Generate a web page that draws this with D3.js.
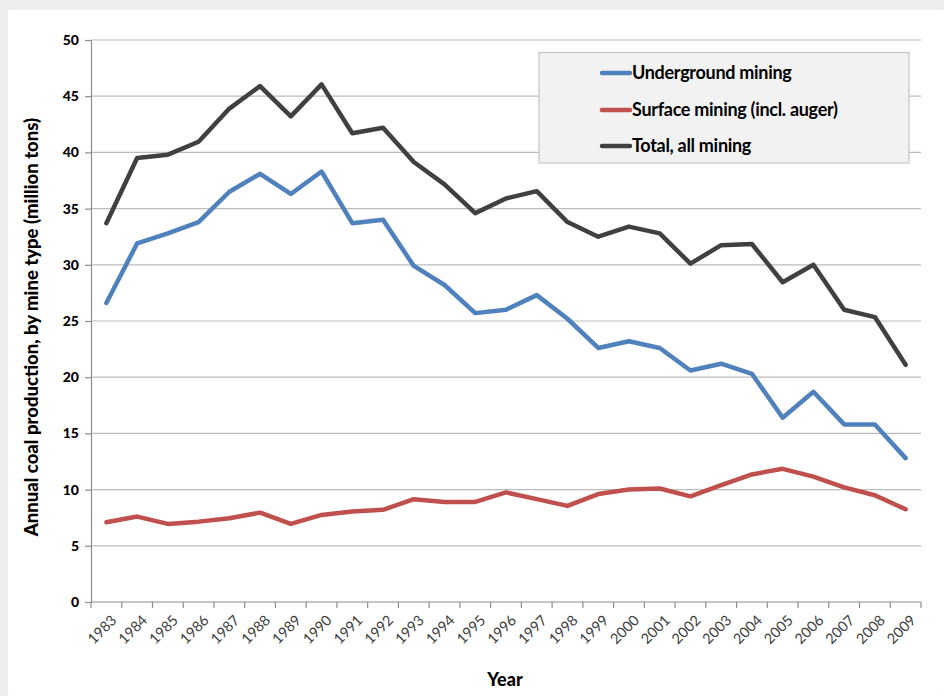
<!DOCTYPE html>
<html><head><meta charset="utf-8">
<script src="https://cdn.jsdelivr.net/npm/d3@7"></script>
<style>
html,body{margin:0;padding:0;background:#f0f0f0;}
svg{display:block;}
</style></head>
<body>
<svg id="chart" width="944" height="696"></svg>
<script>
const years = ["1983","1984","1985","1986","1987","1988","1989","1990","1991","1992","1993","1994","1995","1996","1997","1998","1999","2000","2001","2002","2003","2004","2005","2006","2007","2008","2009"];
const underground = [26.6,31.9,32.8,33.8,36.5,38.1,36.3,38.3,33.7,34.0,29.9,28.2,25.7,26.0,27.3,25.2,22.6,23.2,22.6,20.6,21.2,20.3,16.4,18.7,15.8,15.8,12.8];
const surface = [7.1,7.6,6.95,7.15,7.45,7.95,6.95,7.75,8.05,8.2,9.15,8.9,8.9,9.75,9.15,8.55,9.6,10.0,10.1,9.4,10.4,11.35,11.85,11.15,10.2,9.5,8.25];
const total = [33.7,39.5,39.8,40.95,43.9,45.9,43.2,46.05,41.7,42.2,39.15,37.15,34.6,35.9,36.55,33.8,32.5,33.4,32.8,30.1,31.75,31.85,28.45,30.0,26.0,25.35,21.1];
const yTicks = [0,5,10,15,20,25,30,35,40,45,50];
const seriesNames = ["Underground mining","Surface mining (incl. auger)","Total, all mining"];
const seriesColors = ["#4f81bd","#c0504d","#404040"];
const yTitle = "Annual coal production, by mine type (million tons)";
const xTitle = "Year";

const svg = d3.select("#chart");
const FONT = "Lato, 'Liberation Sans', sans-serif";

// frame
svg.append("rect").attr("x",0).attr("y",0).attr("width",944).attr("height",696).attr("fill","#eeeeee");
svg.append("rect").attr("x",8).attr("y",10).attr("width",936).attr("height",686).attr("fill","#ffffff").attr("rx",3);

const L = 91, R = 921, T = 40, B = 602;
const x = d3.scaleBand().domain(years).range([L, R]).padding(0);
const y = d3.scaleLinear().domain([0, 50]).range([B, T]);

// gridlines
svg.append("g").selectAll("line").data(yTicks.filter(d => d > 0)).join("line")
  .attr("x1", L).attr("x2", R)
  .attr("y1", d => y(d)).attr("y2", d => y(d))
  .attr("stroke", "#bcbcbc").attr("stroke-width", 1.2);

// y axis
const yAxis = svg.append("g").attr("transform", `translate(${L},0)`)
  .call(d3.axisLeft(y).tickValues(yTicks).tickSize(6).tickPadding(6));
yAxis.select(".domain").attr("stroke", "#8c8c8c").attr("stroke-width", 1.2);
yAxis.selectAll(".tick line").attr("stroke", "#8c8c8c").attr("stroke-width", 1.2);
yAxis.selectAll(".tick text").attr("font-family", FONT).attr("font-weight", "900")
  .attr("font-size", 14).attr("fill", "#000");

// x axis (ticks at category boundaries)
const xg = svg.append("g").attr("transform", `translate(0,${B})`);
xg.append("line").attr("x1", L).attr("x2", R).attr("stroke", "#8c8c8c").attr("stroke-width", 1.2);
const bounds = years.map(d => x(d)).concat([x(years[years.length-1]) + x.bandwidth()]);
xg.selectAll("line.tk").data(bounds).join("line").attr("class","tk")
  .attr("x1", d => d).attr("x2", d => d).attr("y1", 0).attr("y2", 6)
  .attr("stroke", "#8c8c8c").attr("stroke-width", 1.2);
xg.selectAll("text").data(years).join("text")
  .attr("transform", d => `translate(${x(d) + x.bandwidth()/2 + 4},${12}) rotate(-45)`)
  .attr("text-anchor", "end").attr("dy", "0.7em")
  .attr("font-family", FONT).attr("font-size", 14.5).attr("fill", "#404040")
  .text(d => d);

// lines
const seriesData = [underground, surface, total];
const line = d3.line().x((d, i) => x(years[i]) + x.bandwidth()/2).y(d => y(d));
svg.append("g").selectAll("path").data(seriesData).join("path")
  .attr("d", d => line(d)).attr("fill", "none")
  .attr("stroke", (d, i) => seriesColors[i]).attr("stroke-width", 4.5)
  .attr("stroke-linejoin", "round").attr("stroke-linecap", "round");

// legend
const lg = svg.append("g");
lg.append("rect").attr("x", 539).attr("y", 52.5).attr("width", 370).attr("height", 110.5)
  .attr("fill", "#f2f2f2").attr("stroke", "#c4c4c4").attr("stroke-width", 1.2);
const rowsY = [73, 110, 146];
seriesNames.forEach((n, i) => {
  lg.append("line").attr("x1", 602).attr("x2", 630).attr("y1", rowsY[i]).attr("y2", rowsY[i])
    .attr("stroke", seriesColors[i]).attr("stroke-width", 4.5).attr("stroke-linecap", "round");
  lg.append("text").attr("x", 632).attr("y", rowsY[i]).attr("dy", "0.35em")
    .attr("font-family", FONT).attr("font-weight", "700").attr("font-size", 18).attr("fill", "#000")
    .attr("letter-spacing", "-0.3")
    .text(n);
});

// titles
svg.append("text").attr("transform", `translate(38,${(T+B)/2 + 6}) rotate(-90)`)
  .attr("text-anchor", "middle").attr("font-family", FONT).attr("font-weight", "900")
  .attr("font-size", 18.5).attr("fill", "#000").text(yTitle);
svg.append("text").attr("x", 505).attr("y", 686).attr("text-anchor", "middle")
  .attr("font-family", FONT).attr("font-weight", "900").attr("font-size", 18).attr("fill", "#000").text(xTitle);
</script>
</body></html>
